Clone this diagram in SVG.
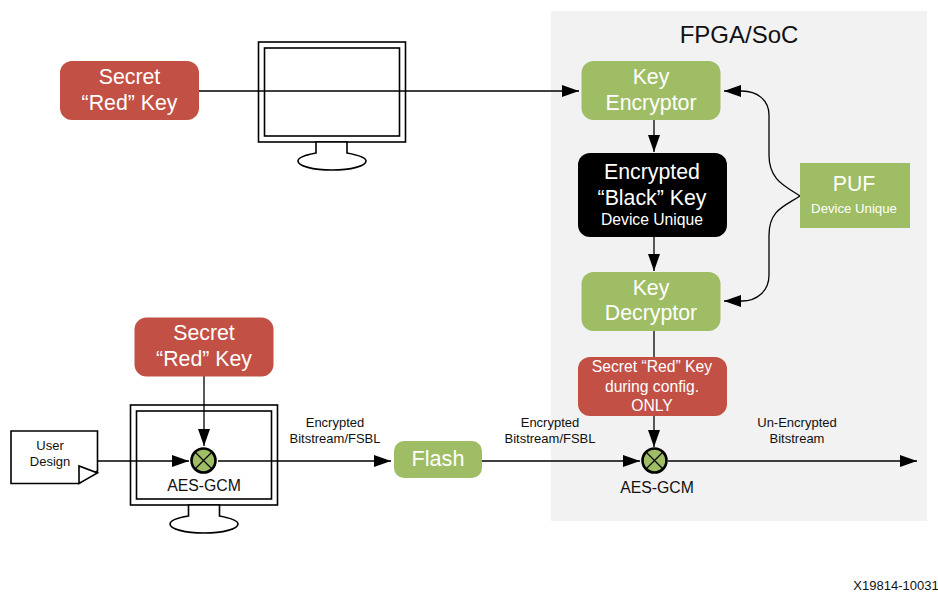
<svg xmlns="http://www.w3.org/2000/svg" width="938" height="592" viewBox="0 0 938 592">
<style>
text{font-family:"Liberation Sans",Arial,sans-serif;text-anchor:middle}
.w{fill:#fff;font-size:21.300px}
.s{fill:#fff;font-size:15.700px}
.k{fill:#111;font-size:13px}
.g{fill:#9fbd65}
.r{fill:#c25045}
.ln{fill:none;stroke:#000;stroke-width:1.3}
.m{fill:#fff;stroke:#000;stroke-width:1.6}
.xc{fill:#9fbd65;stroke:#000;stroke-width:2.6}
.xl{stroke:#000;stroke-width:1.2}
</style>
<defs>
<marker id="a" markerUnits="userSpaceOnUse" markerWidth="18" markerHeight="12" refX="17" refY="6" orient="auto"><path d="M0 0L17 6L0 12Z"/></marker>
</defs>
<rect width="938" height="592" fill="#fff"/>
<g id="panel"><rect x="551" y="11" width="376" height="510" fill="#f2f2f2"/><text x="739" y="43" font-size="24px" fill="#111">FPGA/SoC</text></g>
<g id="monitor-top">
<rect class="m" x="258.500" y="42" width="147" height="100"/><rect class="m" x="264.500" y="48" width="135" height="88"/>
<path class="m" d="M316 142V153C305 155 298 158 298 161C298 166 313 170 332 170C351 170 366 166 366 161C366 158 358 155 347 153V142Z"/>
</g>
<g id="monitor-bottom">
<rect class="m" x="130.500" y="405" width="147" height="100"/><rect class="m" x="136.500" y="411" width="135" height="88"/>
<path class="m" d="M188.500 505V516C177 518 170 521 170 524C170 529 185 533 204 533C223 533 238 529 238 524C238 521 230 518 219.500 516V505Z"/>
<text x="204" y="491" font-size="15.800px" fill="#111">AES-GCM</text>
</g>
<g id="connectors">
<path class="ln" marker-end="url(#a)" d="M199 91H579"/>
<path class="ln" marker-end="url(#a)" d="M654 118V152"/>
<path class="ln" marker-end="url(#a)" d="M654 236V271"/>
<path class="ln" d="M654 330V358"/>
<path class="ln" marker-end="url(#a)" d="M654 415V447"/>
<path class="ln" marker-end="url(#a)" d="M800 196C785 186 769 180 769 155V115C769 100 757 91 742 91H724"/>
<path class="ln" marker-end="url(#a)" d="M800 196C785 206 769 210 769 235V275C769 291 757 301 742 301H724"/>
<path class="ln" marker-end="url(#a)" d="M204 376V446"/>
<path class="ln" marker-end="url(#a)" d="M98 461H189"/>
<path class="ln" marker-end="url(#a)" d="M218 461H391"/>
<path class="ln" marker-end="url(#a)" d="M482 461H640"/>
<path class="ln" marker-end="url(#a)" d="M668 461H917"/>
</g>
<g id="red-key-top"><rect class="r" x="60" y="61" width="139" height="59" rx="12"/><text class="w" x="129.500" y="84">Secret</text><text class="w" x="129.500" y="110">“Red” Key</text></g>
<g id="red-key-bottom"><rect class="r" x="134.500" y="317.500" width="139" height="59" rx="12"/><text class="w" x="204" y="340">Secret</text><text class="w" x="204" y="366">“Red” Key</text></g>
<g id="key-encryptor"><rect class="g" x="581.500" y="61" width="139" height="59" rx="12"/><text class="w" x="651" y="84">Key</text><text class="w" x="651" y="110">Encryptor</text></g>
<g id="black-key"><rect x="578" y="153" width="149" height="84" rx="12" fill="#000"/><text class="w" x="652" y="179">Encrypted</text><text class="w" x="652" y="205">“Black” Key</text><text class="s" x="652" y="225">Device Unique</text></g>
<g id="key-decryptor"><rect class="g" x="581.500" y="272" width="139" height="59" rx="12"/><text class="w" x="651" y="295">Key</text><text class="w" x="651" y="320">Decryptor</text></g>
<g id="puf"><rect class="g" x="800" y="163" width="110" height="65"/><text class="w" x="854" y="191">PUF</text><text x="854" y="213" fill="#fff" font-size="13.200px">Device Unique</text></g>
<g id="red-config"><rect class="r" x="578" y="357" width="149" height="59" rx="12"/><text class="s" x="652" y="372">Secret “Red” Key</text><text class="s" x="652" y="392">during config.</text><text class="s" x="652" y="411">ONLY</text></g>
<g id="flash"><rect class="g" x="394" y="441" width="88" height="37" rx="10"/><text x="438" y="466" fill="#fff" font-size="21.600px">Flash</text></g>
<g id="user-design"><path class="m" d="M11 431H97.500V471L79 483.500H11Z"/><path class="m" d="M79 483.500V466L97.500 473Z"/><text class="k" x="50" y="450">User</text><text class="k" x="50" y="466">Design</text></g>
<g id="xor-bottom"><circle class="xc" cx="203.500" cy="460.500" r="12"/><path class="xl" d="M195 452L212 469M212 452L195 469"/></g>
<g id="xor-right"><circle class="xc" cx="654.500" cy="460.500" r="12"/><path class="xl" d="M646 452L663 469M663 452L646 469"/><text x="657" y="493" font-size="15.800px" fill="#111">AES-GCM</text></g>
<g id="labels">
<text class="k" x="335" y="427">Encrypted</text><text class="k" x="335" y="443">Bitstream/FSBL</text>
<text class="k" x="550" y="427">Encrypted</text><text class="k" x="550" y="443">Bitstream/FSBL</text>
<text class="k" x="797" y="427">Un-Encrypted</text><text class="k" x="797" y="443">Bitstream</text>
<text x="896" y="590" font-size="13px" fill="#111">X19814-10031</text>
</g>
</svg>
